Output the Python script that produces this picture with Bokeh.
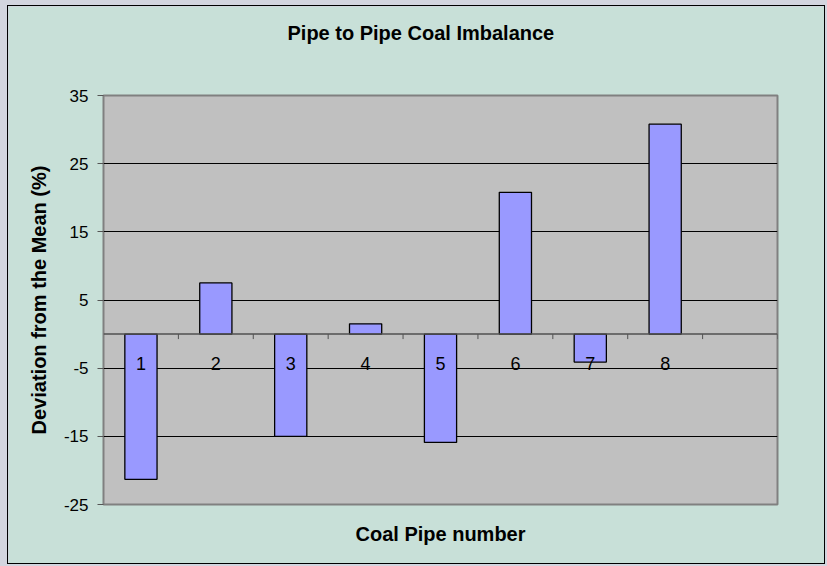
from bokeh.plotting import figure
from bokeh.models import Range1d, FixedTicker, Span
from bokeh.core.properties import value
from bokeh.embed import file_html
from bokeh.resources import INLINE

# ---- data ----
categories = ["1", "2", "3", "4", "5", "6", "7", "8"]
deviation = [-21.3, 7.5, -15.0, 1.5, -15.9, 20.8, -4.1, 30.8]
y_ticks = [-25, -15, -5, 5, 15, 25, 35]
n_slots = 9  # Excel axis shows one empty slot after pipe 8

title_text = "Pipe to Pipe Coal Imbalance"
x_title = "Coal Pipe number"
y_title = "Deviation from the Mean (%)"

FONT = "Liberation Sans"
CHART_BG = "#C8E0D8"
PLOT_BG = "#C0C0C0"
BAR = "#9999FF"
PAGE_BG = "#D3D5DF"

x_pos = [i + 1 for i in range(len(categories))]
boundaries = [i + 0.5 for i in range(1, n_slots + 1)]

FRAME_H = 409
p = figure(width=818, height=559, output_backend="svg", toolbar_location=None,
           x_range=Range1d(0.5, n_slots + 0.5),
           y_range=Range1d(y_ticks[0], y_ticks[-1]),
           min_border_left=95, min_border_right=49,
           min_border_top=89, min_border_bottom=61)
p.styles = {"border": "1px solid black"}
p.border_fill_color = CHART_BG
p.background_fill_color = PLOT_BG
p.outline_line_color = "#808080"
p.outline_line_width = 2

# title (two blank lines below it lift it away from the plot area)
p.title.text = title_text + "\n \n "
p.title.align = "left"
p.title.offset = 184
p.title.text_font = FONT
p.title.text_font_size = "20px"
p.title.text_font_style = "bold"
p.title.text_color = "black"
p.title.text_line_height = 1.05
p.title.standoff = 10

# grid
p.xgrid.grid_line_color = None
p.ygrid.ticker = FixedTicker(ticks=y_ticks)
p.ygrid.grid_line_color = "black"
p.ygrid.grid_line_width = 1

# y axis
p.yaxis.ticker = FixedTicker(ticks=y_ticks)
p.yaxis.major_label_overrides = {t: str(t) for t in y_ticks}
p.yaxis.axis_line_color = None
p.yaxis.major_tick_out = 6
p.yaxis.major_tick_in = 0
p.yaxis.major_tick_line_color = "#555555"
p.yaxis.minor_tick_line_color = None
p.yaxis.major_label_standoff = 9
p.yaxis.major_label_text_font = FONT
p.yaxis.major_label_text_font_size = "17px"
p.yaxis.major_label_text_color = "black"
p.yaxis.axis_label = y_title
p.yaxis.axis_label_text_font = FONT
p.yaxis.axis_label_text_font_size = "20px"
p.yaxis.axis_label_text_font_style = "bold"
p.yaxis.axis_label_text_color = "black"
p.yaxis.axis_label_standoff = 11

# x axis (only the title is visible)
p.xaxis.ticker = FixedTicker(ticks=[])
p.xaxis.axis_line_color = None
p.xaxis.major_tick_out = 0
p.xaxis.major_tick_in = 0
p.xaxis.minor_tick_line_color = None
p.xaxis.major_label_text_font_size = "0px"
p.xaxis.axis_label = x_title
p.xaxis.axis_label_text_font = FONT
p.xaxis.axis_label_text_font_size = "20px"
p.xaxis.axis_label_text_font_style = "bold"
p.xaxis.axis_label_text_color = "black"
p.xaxis.axis_label_standoff = 18

# bars
p.vbar(x=x_pos, top=deviation, bottom=0, width=0.43,
       fill_color=BAR, line_color="black", line_width=1.3)

# category axis at zero
p.add_layout(Span(location=0, dimension="width", line_color="#505050", line_width=1.5))
tick_len = 5 * (y_ticks[-1] - y_ticks[0]) / FRAME_H
p.segment(x0=boundaries, y0=[0] * len(boundaries), x1=boundaries,
          y1=[-tick_len] * len(boundaries), line_color="#505050", line_width=1)

p.text(x=x_pos, y=[0] * len(x_pos), text=categories, text_font=value(FONT),
       text_font_size="18px", text_align="center", text_baseline="middle",
       y_offset=29, text_color="black")

html = file_html(p, INLINE)
style = ("<style>html{background-color:%s !important;}"
         "body{background-color:%s !important;padding:5px 0 0 7px !important;}</style>"
         % (PAGE_BG, PAGE_BG))
html = html.replace("</head>", style + "</head>", 1)
open("out.html", "w").write(html)
